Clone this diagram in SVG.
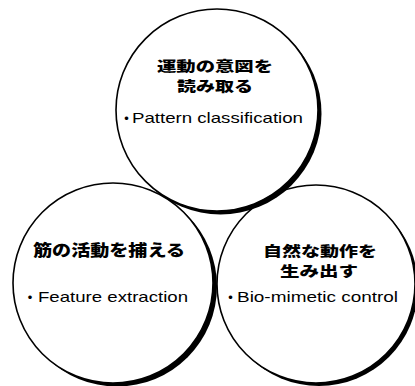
<svg xmlns="http://www.w3.org/2000/svg" width="415" height="386" viewBox="0 0 415 386">
<style>
.shadow{fill:#000}
.ring{fill:none;stroke:#000;stroke-width:1.6}
.jp{font-family:"Noto Sans CJK JP","Noto Sans",sans-serif;font-weight:900;font-size:14px;fill:#000}
.en{font-family:"Liberation Sans","Noto Sans CJK JP",sans-serif;font-size:15px;fill:#000}
.dot{font-family:"Noto Sans CJK JP",sans-serif;font-size:14px;font-weight:bold}
</style>
<defs>
<mask id="m-top"><rect width="415" height="386" fill="#fff"/><circle cx="217" cy="110" r="101" fill="#000"/></mask>
<mask id="m-left"><rect width="415" height="386" fill="#fff"/><circle cx="113" cy="283" r="100" fill="#000"/></mask>
<mask id="m-right"><rect width="415" height="386" fill="#fff"/><circle cx="316" cy="284" r="99" fill="#000"/></mask>
</defs>
<rect width="415" height="386" fill="#fff"/>
<g id="node-top">
<circle class="shadow" cx="220.5" cy="113.5" r="101" mask="url(#m-top)"/>
<circle class="ring" cx="217" cy="110" r="101"/>
<text class="jp"><tspan x="157" y="71" textLength="116" lengthAdjust="spacingAndGlyphs">運動の意図を</tspan><tspan x="177" y="91" textLength="76" lengthAdjust="spacingAndGlyphs">読み取る</tspan></text>
<text class="en" y="123"><tspan class="dot" x="119.5">・</tspan><tspan x="132" textLength="171" lengthAdjust="spacingAndGlyphs">Pattern classification</tspan></text>
</g>
<g id="node-left">
<circle class="shadow" cx="117" cy="286.5" r="100" mask="url(#m-left)"/>
<circle class="ring" cx="113" cy="283" r="100"/>
<text class="jp" x="33" y="256" textLength="152" lengthAdjust="spacingAndGlyphs" style="font-size:15.5px">筋の活動を捕える</text>
<text class="en" y="302"><tspan class="dot" x="23">・</tspan><tspan x="38" textLength="150" lengthAdjust="spacingAndGlyphs">Feature extraction</tspan></text>
</g>
<g id="node-right">
<circle class="shadow" cx="319" cy="287" r="99" mask="url(#m-right)"/>
<circle class="ring" cx="316" cy="284" r="99"/>
<text class="jp"><tspan x="263" y="256" textLength="114" lengthAdjust="spacingAndGlyphs">自然な動作を</tspan><tspan x="280" y="276" textLength="78" lengthAdjust="spacingAndGlyphs">生み出す</tspan></text>
<text class="en" y="302"><tspan class="dot" x="223.5">・</tspan><tspan x="237" textLength="161" lengthAdjust="spacingAndGlyphs">Bio-mimetic control</tspan></text>
</g>
</svg>
